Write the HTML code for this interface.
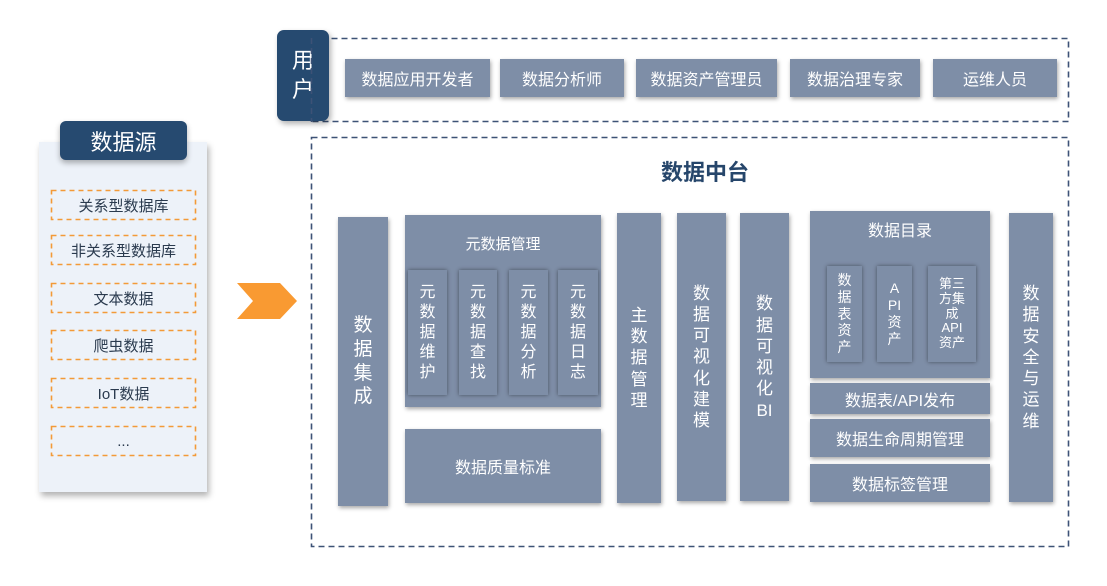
<!DOCTYPE html>
<html><head><meta charset="utf-8"><style>
body{margin:0;width:1107px;height:586px;background:#fff;position:relative;overflow:hidden;font-family:"Liberation Sans","Noto Sans CJK SC",sans-serif}
.a{position:absolute;box-sizing:border-box}
.b{background:#7e8ea7;color:#fff;display:flex;align-items:center;justify-content:center;text-align:center;box-shadow:1px 2px 4px rgba(0,0,0,.35)}
.s{background:#7e8ea7;box-shadow:0 0 4px rgba(0,0,0,.45)}
.d{display:flex;align-items:center;justify-content:center;font-size:15px;color:#2a3a4e}
.v{line-height:1.25}
</style></head><body>
<!-- left panel -->
<div class="a" style="left:39px;top:142px;width:168px;height:350px;background:#edf2f9;box-shadow:2px 4px 6px rgba(0,0,0,.3)"></div>
<div class="a" style="left:60px;top:121px;width:127px;height:39px;background:#264a70;border-radius:6px;color:#fff;font-size:22px;display:flex;align-items:center;justify-content:center;box-shadow:0 3px 6px rgba(0,0,0,.3)">数据源</div>
<svg class="a" style="left:0;top:0" width="1107" height="586">
<g fill="none" stroke="#f39a38" stroke-width="1.6" stroke-dasharray="5 4">
<rect x="51.5" y="190.5" width="144" height="29"/>
<rect x="51.5" y="235.5" width="144" height="29"/>
<rect x="51.5" y="283.5" width="144" height="29"/>
<rect x="51.5" y="330.5" width="144" height="29"/>
<rect x="51.5" y="378.5" width="144" height="29"/>
<rect x="51.5" y="426.5" width="144" height="29"/>
</g>
<g fill="none" stroke="#3d5276" stroke-width="1.6" stroke-dasharray="6 4">
<rect x="311.5" y="38.5" width="757" height="83"/>
<rect x="311.5" y="137.5" width="757" height="409"/>
</g>
</svg>
<div class="a d" style="left:51px;top:190px;width:145px;height:30px">关系型数据库</div>
<div class="a d" style="left:51px;top:235px;width:145px;height:30px">非关系型数据库</div>
<div class="a d" style="left:51px;top:283px;width:145px;height:30px">文本数据</div>
<div class="a d" style="left:51px;top:330px;width:145px;height:30px">爬虫数据</div>
<div class="a d" style="left:51px;top:378px;width:145px;height:30px">IoT数据</div>
<div class="a d" style="left:51px;top:426px;width:145px;height:30px">...</div>
<svg class="a" style="left:237px;top:283px" width="61" height="37"><polygon points="0,0 43,0 60,18 43,36 0,36 16,18" fill="#f99a32"/></svg>
<!-- users -->
<div class="a" style="left:277px;top:30px;width:52px;height:91px;background:#264a70;border-radius:7px;color:#fff;font-size:22px;line-height:1.3;display:flex;align-items:center;justify-content:center;text-align:center;box-shadow:2px 3px 6px rgba(0,0,0,.3)">用<br>户</div>
<svg class="a" style="left:310px;top:38px" width="4" height="85"><line x1="1.5" y1="0" x2="1.5" y2="84" stroke="#3d5276" stroke-width="1.6" stroke-dasharray="6 4"/></svg>
<div class="a b" style="left:345px;top:59px;width:145px;height:38px;font-size:16px">数据应用开发者</div>
<div class="a b" style="left:500px;top:59px;width:124px;height:38px;font-size:16px">数据分析师</div>
<div class="a b" style="left:636px;top:59px;width:141px;height:38px;font-size:16px">数据资产管理员</div>
<div class="a b" style="left:790px;top:59px;width:130px;height:38px;font-size:16px">数据治理专家</div>
<div class="a b" style="left:933px;top:59px;width:124px;height:38px;font-size:16px">运维人员</div>
<!-- main -->
<div class="a" style="left:605px;top:155px;width:200px;text-align:center;font-size:22px;font-weight:bold;color:#26466b">数据中台</div>
<div class="a b v" style="left:338px;top:217px;width:50px;height:289px;font-size:19px">数<br>据<br>集<br>成</div>
<div class="a b" style="left:405px;top:215px;width:196px;height:192px;align-items:flex-start;padding-top:18px;font-size:15px">元数据管理</div>
<div class="a s b v" style="left:408px;top:270px;width:39px;height:125px;font-size:16px">元<br>数<br>据<br>维<br>护</div>
<div class="a s b v" style="left:459px;top:270px;width:38px;height:125px;font-size:16px">元<br>数<br>据<br>查<br>找</div>
<div class="a s b v" style="left:509px;top:270px;width:39px;height:125px;font-size:16px">元<br>数<br>据<br>分<br>析</div>
<div class="a s b v" style="left:558px;top:270px;width:40px;height:125px;font-size:16px">元<br>数<br>据<br>日<br>志</div>
<div class="a b" style="left:405px;top:429px;width:196px;height:74px;font-size:16px">数据质量标准</div>
<div class="a b v" style="left:617px;top:213px;width:44px;height:290px;font-size:17px">主<br>数<br>据<br>管<br>理</div>
<div class="a b v" style="left:677px;top:213px;width:49px;height:288px;font-size:17px">数<br>据<br>可<br>视<br>化<br>建<br>模</div>
<div class="a b v" style="left:740px;top:213px;width:49px;height:288px;font-size:17px">数<br>据<br>可<br>视<br>化<br>BI</div>
<div class="a b" style="left:810px;top:211px;width:180px;height:167px;align-items:flex-start;padding-top:6px;font-size:16px">数据目录</div>
<div class="a s b" style="left:827px;top:266px;width:35px;height:96px;font-size:14px;line-height:1.2">数<br>据<br>表<br>资<br>产</div>
<div class="a s b" style="left:877px;top:266px;width:35px;height:96px;font-size:14px;line-height:1.2">A<br>PI<br>资<br>产</div>
<div class="a s b" style="left:928px;top:266px;width:48px;height:96px;font-size:13px;line-height:1.15">第三<br>方集<br>成<br>API<br>资产</div>
<div class="a b" style="left:810px;top:383px;width:180px;height:31px;font-size:16px">数据表/API发布</div>
<div class="a b" style="left:810px;top:419px;width:180px;height:38px;font-size:16px">数据生命周期管理</div>
<div class="a b" style="left:810px;top:464px;width:180px;height:38px;font-size:16px">数据标签管理</div>
<div class="a b v" style="left:1009px;top:213px;width:44px;height:289px;font-size:17px">数<br>据<br>安<br>全<br>与<br>运<br>维</div>
</body></html>
